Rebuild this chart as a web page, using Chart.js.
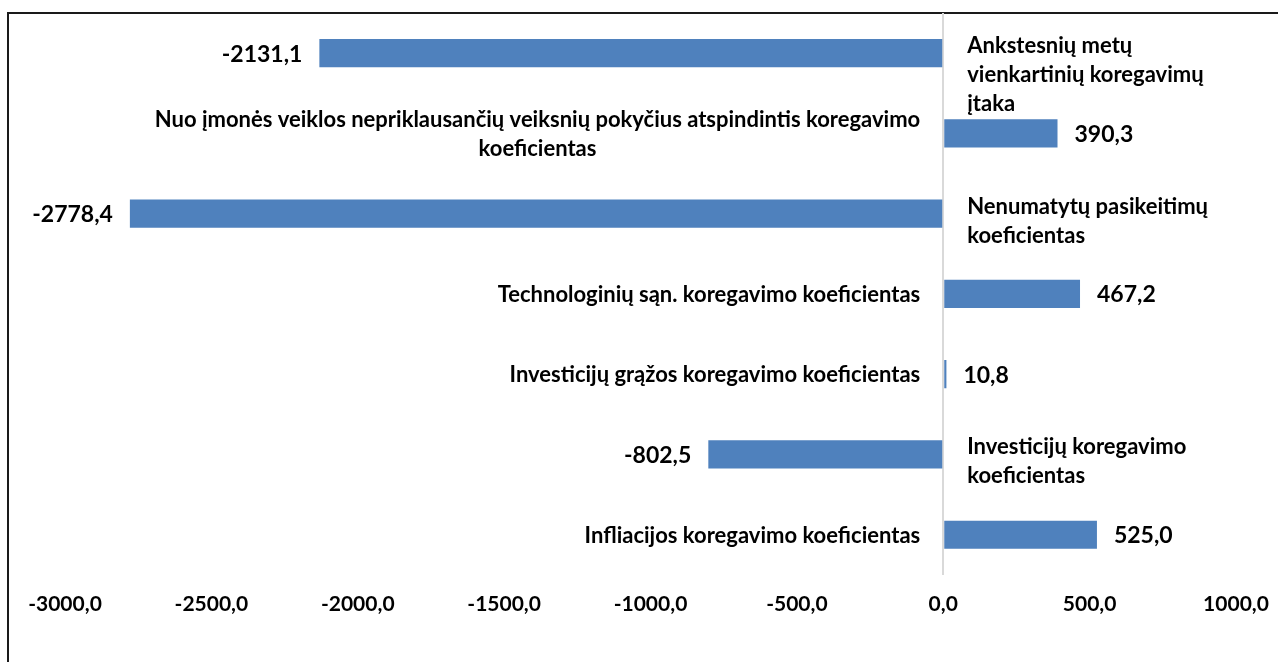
<!DOCTYPE html>
<html>
<head>
<meta charset="utf-8">
<script src="https://cdn.jsdelivr.net/npm/chart.js@4/dist/chart.umd.min.js"></script>
<style>
  html, body { margin: 0; padding: 0; background: #fff; overflow: hidden; }
  #frame { position: absolute; left: 7px; top: 12px; width: 1400px; height: 800px; border: 2px solid #1a1a1a; }
  #wrap { position: absolute; left: 0; top: 0; width: 1278px; height: 662px; }
</style>
</head>
<body>
<div id="frame"></div>
<div id="wrap"><canvas id="chart"></canvas></div>
<script>
// categories, top to bottom (line breaks as in the original)
const categories = [
    ['Ankstesnių metų', 'vienkartinių koregavimų', 'įtaka'],
    ['Nuo įmonės veiklos nepriklausančių veiksnių pokyčius atspindintis koregavimo', 'koeficientas'],
    ['Nenumatytų pasikeitimų', 'koeficientas'],
    ['Technologinių sąn. koregavimo koeficientas'],
    ['Investicijų grąžos koregavimo koeficientas'],
    ['Investicijų koregavimo', 'koeficientas'],
    ['Infliacijos koregavimo koeficientas']
];
const values = [-2131.1, 390.3, -2778.4, 467.2, 10.8, -802.5, 525.0];
const xTicks = [-3000, -2500, -2000, -1500, -1000, -500, 0, 500, 1000];

const fmt = v => v.toFixed(1).replace('.', ',');

const labelPlugin = {
    id: 'barLabels',
    afterDatasetsDraw(chart) {
        const ctx = chart.ctx;
        const zero = chart.scales.x.getPixelForValue(0);
        const meta = chart.getDatasetMeta(0);
        ctx.save();
        ctx.fillStyle = '#000';
        meta.data.forEach((bar, i) => {
            const v = values[i];
            const cy = bar.y;
            // value at the end of the bar
            ctx.font = 'bold 23px Lato';
            ctx.textBaseline = 'middle';
            if (v < 0) {
                ctx.textAlign = 'right';
                ctx.fillText(fmt(v), bar.x - 17, cy + 1);
            } else {
                ctx.textAlign = 'left';
                ctx.fillText(fmt(v), bar.x + 17, cy + 1);
            }
            // category name on the other side of the zero line
            ctx.font = 'bold 22px Lato';
            const lines = categories[i];
            const lh = 29;
            if (v < 0) {
                ctx.textAlign = 'left';
                ctx.textBaseline = 'alphabetic';
                lines.forEach((t, k) => ctx.fillText(t, zero + 24, cy + k * lh));
            } else {
                const w = Math.max(...lines.map(t => ctx.measureText(t).width));
                const cx = zero - 23 - w / 2;
                const top = cy - (lines.length - 1) * lh / 2;
                ctx.textAlign = 'center';
                ctx.textBaseline = 'middle';
                lines.forEach((t, k) => ctx.fillText(t, cx, top + k * lh + 1));
            }
        });
        ctx.restore();
    }
};

new Chart(document.getElementById('chart'), {
    type: 'bar',
    data: {
        labels: categories,
        datasets: [{
            data: values,
            backgroundColor: '#4f81bd',
            borderWidth: 0,
            barPercentage: 0.35,
            categoryPercentage: 1.0
        }]
    },
    options: {
        indexAxis: 'y',
        responsive: true,
        maintainAspectRatio: false,
        animation: false,
        layout: { padding: { left: 65, right: 42, top: 13, bottom: 28 } },
        plugins: { legend: { display: false }, tooltip: { enabled: false } },
        scales: {
            x: {
                min: xTicks[0],
                max: xTicks[xTicks.length - 1],
                afterBuildTicks: scale => { scale.ticks = xTicks.map(v => ({ value: v })); },
                afterFit: scale => { scale.paddingLeft = 0; scale.paddingRight = 0; },
                border: { display: false },
                grid: {
                    drawTicks: false,
                    lineWidth: 2,
                    color: c => (c.tick && c.tick.value === 0) ? '#d9d9d9' : 'rgba(0,0,0,0)'
                },
                ticks: {
                    padding: 17,
                    color: '#000',
                    font: { family: 'Lato', size: 21, weight: 'bold' },
                    maxRotation: 0,
                    callback: v => fmt(v)
                }
            },
            y: {
                display: false,
                grid: { display: false }
            }
        }
    },
    plugins: [labelPlugin]
});
</script>
</body>
</html>
